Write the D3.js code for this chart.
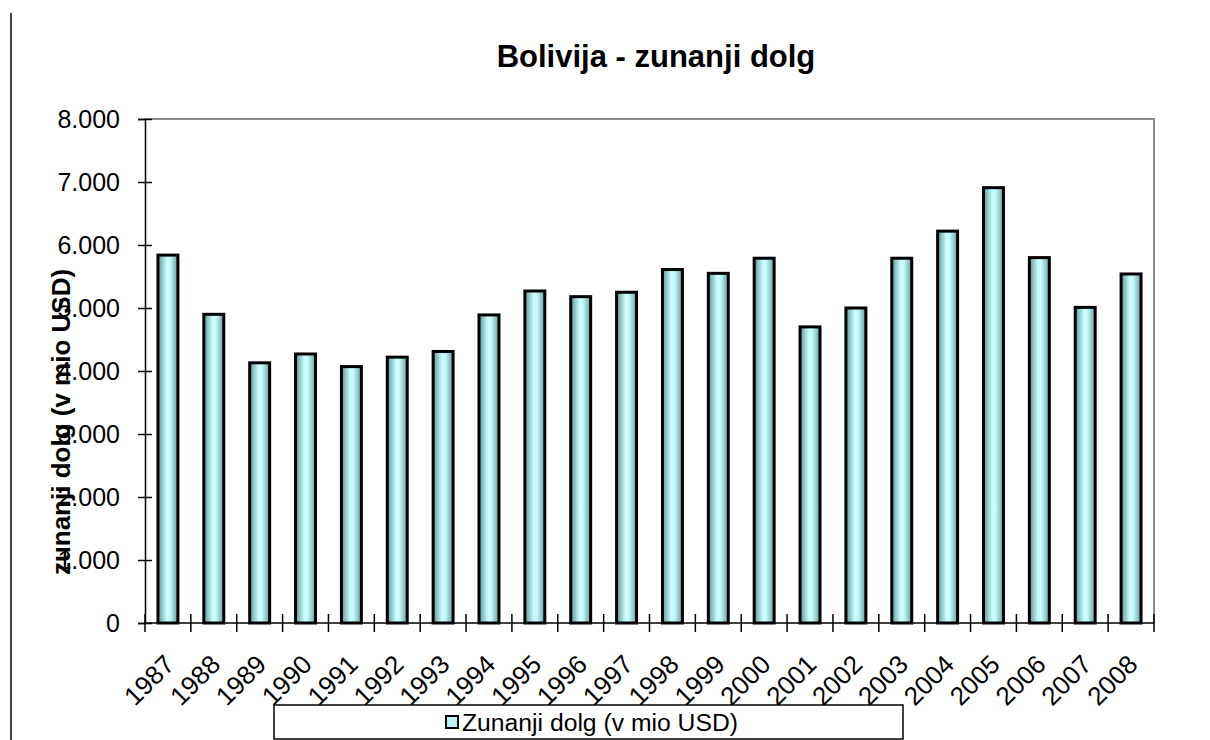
<!DOCTYPE html>
<html><head><meta charset="utf-8">
<script src="https://cdn.jsdelivr.net/npm/d3@7"></script>
<style>body{margin:0;background:#fff}svg{display:block}text{font-family:"Liberation Sans",Arial,sans-serif}</style>
</head><body><svg id="c" width="1210" height="740"></svg>
<script>
const years = ["1987","1988","1989","1990","1991","1992","1993","1994","1995","1996","1997","1998","1999","2000","2001","2002","2003","2004","2005","2006","2007","2008"];
const debt = [5840,4900,4130,4270,4070,4220,4310,4890,5270,5180,5250,5610,5550,5790,4700,5000,5790,6220,6910,5800,5010,5540];
const yTicks = [0,1000,2000,3000,4000,5000,6000,7000,8000];
const yTickLabels = ["0","1.000","2.000","3.000","4.000","5.000","6.000","7.000","8.000"];
const title = "Bolivija - zunanji dolg";
const yTitle = "zunanji dolg (v mio USD)";
const seriesName = "Zunanji dolg (v mio USD)";

const svg = d3.select("#c");
const L = 145, R = 1154, T = 119, B = 623;
const x = d3.scaleBand().domain(years).range([L, R]).paddingInner(0.565).paddingOuter(0.2825);
const xb = d3.scaleBand().domain(years).range([L, R]);
const y = d3.scaleLinear().domain([0, 8000]).range([B, T]);

const defs = svg.append("defs");
const g = defs.append("linearGradient").attr("id","bg").attr("x1","0").attr("x2","1").attr("y1","0").attr("y2","0");
g.append("stop").attr("offset","0").attr("stop-color","#5f9696");
g.append("stop").attr("offset","0.45").attr("stop-color","#ccffff");
g.append("stop").attr("offset","0.6").attr("stop-color","#c4fbfb");
g.append("stop").attr("offset","1").attr("stop-color","#6a9e9e");

svg.append("line").attr("x1",11).attr("x2",11).attr("y1",13).attr("y2",740).attr("stroke","#000").attr("stroke-width",1.5);

svg.append("path").attr("d",`M${L},${T}H${R}V${B}`).attr("fill","none").attr("stroke","#8c8c8c").attr("stroke-width",2);

svg.selectAll("rect.bar").data(years).join("rect").attr("class","bar")
  .attr("x", d => x(d)).attr("width", x.bandwidth())
  .attr("y", (d,i) => y(debt[i])).attr("height", (d,i) => B - y(debt[i]))
  .attr("fill","url(#bg)").attr("stroke","#000").attr("stroke-width",3);

const ya = svg.append("g").attr("transform",`translate(${L},0)`)
  .call(d3.axisLeft(y).tickValues(yTicks).tickFormat((d,i)=>yTickLabels[i]).tickSize(7).tickPadding(18));
ya.select(".domain").attr("stroke","#000").attr("stroke-width",1.5);
ya.selectAll(".tick line").attr("stroke","#000").attr("stroke-width",1.5).attr("x2",-7).attr("x1",7);
ya.selectAll(".tick text").attr("font-size",25).attr("fill","#000").attr("font-family","Liberation Sans, Arial");

const xa = svg.append("g").attr("transform",`translate(0,${B})`);
xa.append("line").attr("x1",L).attr("x2",R).attr("stroke","#000").attr("stroke-width",1.5);
const bounds = years.map(d => xb(d)).concat([R]);
xa.selectAll("line.tk").data(bounds).join("line").attr("class","tk")
  .attr("x1",d=>d).attr("x2",d=>d).attr("y1",-9).attr("y2",9).attr("stroke","#000").attr("stroke-width",1.5);
xa.selectAll("text").data(years).join("text")
  .attr("transform", d => `translate(${x(d)+x.bandwidth()/2-5},${30}) rotate(-45)`)
  .attr("text-anchor","end").attr("dy","0.71em").attr("font-size",26).attr("fill","#000")
  .text(d => d);

svg.append("text").attr("x",656).attr("y",67).attr("text-anchor","middle")
  .attr("font-size",31).attr("font-weight","bold").text(title);

svg.append("text").attr("transform","translate(70,422) rotate(-90)").attr("text-anchor","middle")
  .attr("font-size",26).attr("font-weight","bold").text(yTitle);

svg.append("rect").attr("x",274).attr("y",705).attr("width",629).attr("height",34).attr("fill","#fff").attr("stroke","#000").attr("stroke-width",1.5);
svg.append("rect").attr("x",446).attr("y",716).attr("width",12).attr("height",12).attr("fill","#b8f4f4").attr("stroke","#000").attr("stroke-width",2);
svg.append("text").attr("x",462).attr("y",731).attr("font-size",23).attr("textLength",276).attr("lengthAdjust","spacingAndGlyphs").text(seriesName);
</script></body></html>
